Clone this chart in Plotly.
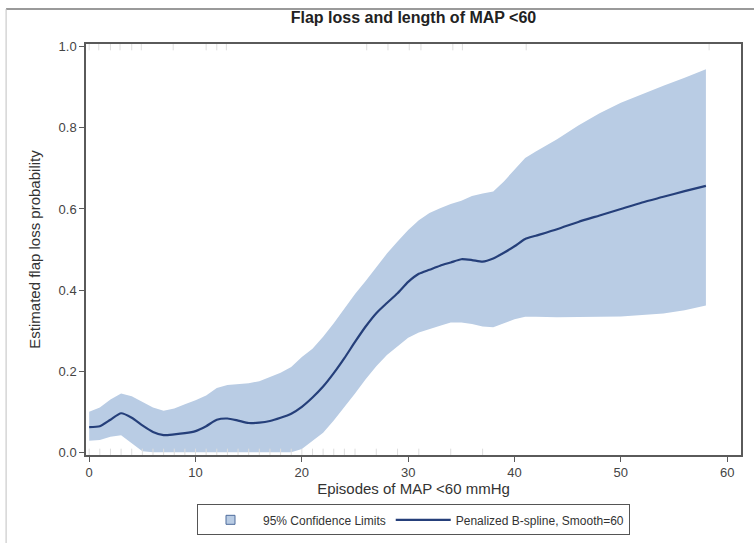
import plotly.graph_objects as go

# Episodes of MAP < 60 mmHg (evaluation grid)
episodes = [0, 1, 2, 3, 4, 5, 6, 7, 8, 9, 10, 11, 12, 13, 14, 15, 16, 17, 18, 19,
            20, 21, 22, 23, 24, 25, 26, 27, 28, 29, 30, 31, 32, 33, 34, 35, 36, 37,
            38, 39, 40, 41, 42, 44, 46, 48, 50, 52, 54, 56, 58]

# Penalized B-spline estimate of flap loss probability
estimate = [0.062, 0.064, 0.080, 0.096, 0.085, 0.066, 0.050, 0.042, 0.044, 0.047,
            0.052, 0.064, 0.080, 0.083, 0.078, 0.072, 0.073, 0.077, 0.085, 0.095,
            0.112, 0.135, 0.162, 0.195, 0.232, 0.272, 0.310, 0.343, 0.368, 0.392,
            0.420, 0.440, 0.450, 0.460, 0.468, 0.476, 0.474, 0.470, 0.478, 0.492,
            0.508, 0.526, 0.534, 0.550, 0.568, 0.584, 0.600, 0.616, 0.630, 0.644,
            0.657]

# 95% confidence limits
upper = [0.100, 0.110, 0.130, 0.145, 0.138, 0.124, 0.110, 0.102, 0.108, 0.118,
         0.128, 0.140, 0.158, 0.166, 0.168, 0.170, 0.175, 0.185, 0.196, 0.210,
         0.235, 0.255, 0.285, 0.318, 0.355, 0.390, 0.422, 0.455, 0.490, 0.520,
         0.548, 0.572, 0.590, 0.602, 0.612, 0.620, 0.632, 0.638, 0.643, 0.668,
         0.698, 0.726, 0.742, 0.772, 0.806, 0.836, 0.862, 0.884, 0.904, 0.924,
         0.945]
lower = [0.028, 0.030, 0.038, 0.042, 0.022, 0.002, 0.0, 0.0, 0.0, 0.0,
         0.0, 0.0, 0.0, 0.0, 0.0, 0.0, 0.0, 0.0, 0.0, 0.0,
         0.008, 0.028, 0.048, 0.078, 0.110, 0.145, 0.180, 0.212, 0.240, 0.262,
         0.282, 0.295, 0.303, 0.312, 0.320, 0.320, 0.316, 0.310, 0.308, 0.318,
         0.328, 0.334, 0.334, 0.333, 0.333, 0.334, 0.335, 0.338, 0.342, 0.350,
         0.362]

# Observed outcomes (rug): flap loss = 1 at top, no loss = 0 at bottom
events_x = [0, 0.9, 2, 2.9, 4, 4.9, 7.9, 11, 12, 12.9, 26.1, 28.1, 30.1, 31.2,
            34.2, 35.1, 41.1, 58.3]
nonevents_x = [0, 1, 2, 3, 4, 5, 6, 7, 8, 9, 10, 11, 12, 13, 14, 15, 16, 17, 18,
               19, 20, 21, 22, 23, 24, 25, 27, 29, 31, 34, 37]

x_ticks = [0, 10, 20, 30, 40, 50, 60]
y_ticks = [0.0, 0.2, 0.4, 0.6, 0.8, 1.0]

band_color = "#b9cce4"
line_color = "#253f7a"
rug_color = "#dedede"
font_family = "Liberation Sans, Arial, sans-serif"

fig = go.Figure()

# Confidence band (legend entry drawn separately as a square swatch)
fig.add_trace(go.Scatter(
    x=episodes + episodes[::-1],
    y=upper + lower[::-1],
    fill="toself",
    fillcolor=band_color,
    line=dict(width=0, color=band_color),
    mode="lines",
    showlegend=False,
    hoverinfo="skip",
))
fig.add_trace(go.Scatter(
    x=[None], y=[None],
    mode="markers",
    marker=dict(symbol="square", size=9, color=band_color,
                line=dict(color="#4f6d9c", width=1)),
    name="95% Confidence Limits",
))

fig.add_trace(go.Scatter(
    x=episodes, y=estimate,
    mode="lines",
    line=dict(color=line_color, width=2.2, shape="spline", smoothing=0.6),
    name="Penalized B-spline, Smooth=60",
))

fig.add_trace(go.Scatter(
    x=events_x, y=[1.0] * len(events_x),
    mode="markers",
    marker=dict(symbol="line-ns", size=5, line=dict(width=1, color=rug_color)),
    showlegend=False, hoverinfo="skip",
))
fig.add_trace(go.Scatter(
    x=nonevents_x, y=[0.0] * len(nonevents_x),
    mode="markers",
    marker=dict(symbol="line-ns", size=5, line=dict(width=1, color=rug_color)),
    showlegend=False, hoverinfo="skip",
))

axis_common = dict(
    showline=True, linecolor="#5a5a5a", linewidth=1.5, mirror=True,
    ticks="outside", ticklen=5, tickcolor="#5a5a5a", tickwidth=1,
    showgrid=False, zeroline=False,
    tickfont=dict(family=font_family, size=13, color="#444444"),
)

fig.update_xaxes(
    range=[-0.3, 61.3], tickvals=x_ticks,
    title=dict(text="Episodes of MAP <60 mmHg", standoff=3,
               font=dict(family=font_family, size=15, color="#333333")),
    **axis_common,
)
fig.update_yaxes(
    range=[-0.007, 1.007], tickvals=y_ticks, tickformat=".1f",
    title=dict(text="Estimated flap loss probability", standoff=14,
               font=dict(family=font_family, size=15, color="#333333")),
    **axis_common,
)

fig.update_layout(
    width=754, height=543,
    margin=dict(l=86, r=13, t=44, b=88, autoexpand=False),
    paper_bgcolor="white", plot_bgcolor="white",
    font=dict(family=font_family, color="#333333"),
    title=dict(text="<b>Flap loss and length of MAP <60</b>",
               x=0.5, xref="paper", xanchor="center",
               y=0.968, yanchor="middle",
               font=dict(family=font_family, size=16, color="#222222")),
    legend=dict(
        orientation="h", x=0.5, xanchor="center", xref="paper",
        y=-0.12, yanchor="top",
        bordercolor="#555555", borderwidth=1, bgcolor="white",
        font=dict(family=font_family, size=12, color="#333333"),
        itemwidth=55, tracegroupgap=0,
    ),
    shapes=[
        dict(type="line", xref="paper", yref="paper",
             x0=-0.122, x1=1.02, y0=1.085, y1=1.085,
             line=dict(color="#9a9a9a", width=2)),
        dict(type="line", xref="paper", yref="paper",
             x0=-0.122, x1=-0.122, y0=1.085, y1=-0.22,
             line=dict(color="#c0c0c0", width=1)),
    ],
)

fig.write_html("out.html")
